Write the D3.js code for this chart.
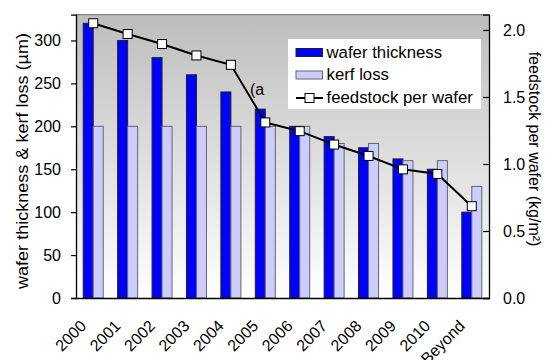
<!DOCTYPE html>
<html>
<head>
<meta charset="utf-8">
<script src="https://cdn.jsdelivr.net/npm/d3@7"></script>
<style>
  html, body { margin: 0; padding: 0; background: #fff; }
  svg { display: block; font-family: "Liberation Sans", Arial, sans-serif; }
</style>
</head>
<body>
<svg id="chart" width="547" height="360"></svg>
<script>
const categories = ["2000","2001","2002","2003","2004","2005","2006","2007","2008","2009","2010","Beyond"];
const waferThickness = [320,300,280,260,240,220,200,188,175,162,150,100];
const kerfLoss = [200,200,200,200,200,200,200,180,180,160,160,130];
const feedstock = [2.05,1.97,1.895,1.81,1.74,1.31,1.245,1.145,1.06,0.96,0.925,0.685];
const leftTicks = [0,50,100,150,200,250,300];
const rightTicks = [0,0.5,1.0,1.5,2.0];

const svg = d3.select("#chart");
const L = 76, R = 489, T = 14.7, B = 298;

const x = d3.scaleBand().domain(categories).range([L, R]).padding(0);
const yL = d3.scaleLinear().domain([0, 330]).range([B, T]);
const yR = d3.scaleLinear().domain([0, 2.114]).range([B, T]);

// background gradient
const defs = svg.append("defs");
const grad = defs.append("linearGradient").attr("id", "bg").attr("x1", 0).attr("y1", 0).attr("x2", 0).attr("y2", 1);
grad.append("stop").attr("offset", "0%").attr("stop-color", "#bdbdbd");
grad.append("stop").attr("offset", "100%").attr("stop-color", "#ffffff");

svg.append("rect").attr("x", L).attr("y", T).attr("width", R - L).attr("height", B - T).attr("fill", "url(#bg)");
svg.append("line").attr("x1", L).attr("x2", R).attr("y1", T).attr("y2", T).attr("stroke", "#808080").attr("stroke-width", 1.2);

const bw = 10;
const cx = d => x(d) + x.bandwidth() / 2;

// bars
svg.append("g").selectAll("rect").data(categories).join("rect")
  .attr("x", d => cx(d) - bw)
  .attr("y", (d, i) => yL(waferThickness[i]))
  .attr("width", bw)
  .attr("height", (d, i) => B - yL(waferThickness[i]))
  .attr("fill", "#0000ff").attr("stroke", "#222").attr("stroke-width", 1);

svg.append("g").selectAll("rect").data(categories).join("rect")
  .attr("x", d => cx(d))
  .attr("y", (d, i) => yL(kerfLoss[i]))
  .attr("width", bw)
  .attr("height", (d, i) => B - yL(kerfLoss[i]))
  .attr("fill", "#ccccff").attr("stroke", "#666").attr("stroke-width", 1);

// axes
const axL = svg.append("g").attr("transform", `translate(${L},0)`)
  .call(d3.axisLeft(yL).tickValues(leftTicks).tickSize(5).tickPadding(10).tickFormat(d3.format("d")));
const axR = svg.append("g").attr("transform", `translate(${R},0)`)
  .call(d3.axisRight(yR).tickValues(rightTicks).tickSize(-6).tickPadding(14).tickFormat(d3.format(".1f")));
const axB = svg.append("g").attr("transform", `translate(0,${B})`)
  .call(d3.axisBottom(x).tickSize(0).tickPadding(0));

[axL, axR, axB].forEach(a => {
  a.select(".domain").attr("stroke", "#000").attr("stroke-width", 1.3);
  a.selectAll(".tick line").attr("stroke", "#000").attr("stroke-width", 1.2);
  a.selectAll("text").attr("font-size", 16).attr("fill", "#000").attr("font-family", "Liberation Sans, Arial, sans-serif");
});
axB.selectAll(".tick text")
  .attr("text-anchor", "end")
  .attr("dy", 0)
  .attr("transform", "translate(-6,29) rotate(-45)")
  .attr("y", 0).attr("x", 0);

// line
const line = d3.line().x((d, i) => cx(categories[i])).y(d => yR(d));
svg.append("path").datum(feedstock).attr("d", line)
  .attr("fill", "none").attr("stroke", "#000").attr("stroke-width", 2);
svg.append("g").selectAll("rect").data(feedstock).join("rect")
  .attr("x", (d, i) => cx(categories[i]) - 4.5)
  .attr("y", d => yR(d) - 4.5)
  .attr("width", 9).attr("height", 9)
  .attr("fill", "#fff").attr("stroke", "#000").attr("stroke-width", 1);

// annotation
svg.append("text").attr("x", 250).attr("y", 95).attr("font-size", 16).text("(a");

// axis titles
svg.append("text").attr("transform", "translate(28,161) rotate(-90)")
  .attr("text-anchor", "middle").attr("font-size", 16)
  .attr("textLength", 256).attr("lengthAdjust", "spacingAndGlyphs")
  .text("wafer thickness & kerf loss (µm)");
svg.append("text").attr("transform", "translate(529,149) rotate(90)")
  .attr("text-anchor", "middle").attr("font-size", 16)
  .text("feedstock per wafer (kg/m²)");

// legend
const lg = svg.append("g");
lg.append("rect").attr("x", 288).attr("y", 39).attr("width", 193).attr("height", 70).attr("fill", "#fff");
lg.append("rect").attr("x", 296).attr("y", 48.5).attr("width", 26.5).attr("height", 8).attr("fill", "#0000ff").attr("stroke", "#222");
lg.append("rect").attr("x", 296).attr("y", 71).attr("width", 26.5).attr("height", 8).attr("fill", "#ccccff").attr("stroke", "#666");
lg.append("line").attr("x1", 296).attr("x2", 323).attr("y1", 98).attr("y2", 98).attr("stroke", "#000").attr("stroke-width", 2);
lg.append("rect").attr("x", 305).attr("y", 93.5).attr("width", 9).attr("height", 9).attr("fill", "#fff").attr("stroke", "#000");
const legendLabels = ["wafer thickness", "kerf loss", "feedstock per wafer"];
lg.selectAll("text.lt").data(legendLabels).join("text").attr("class", "lt")
  .attr("x", 326.5).attr("y", (d, i) => 57.5 + i * 22.7)
  .attr("font-size", 16.8).text(d => d);
</script>
</body>
</html>
